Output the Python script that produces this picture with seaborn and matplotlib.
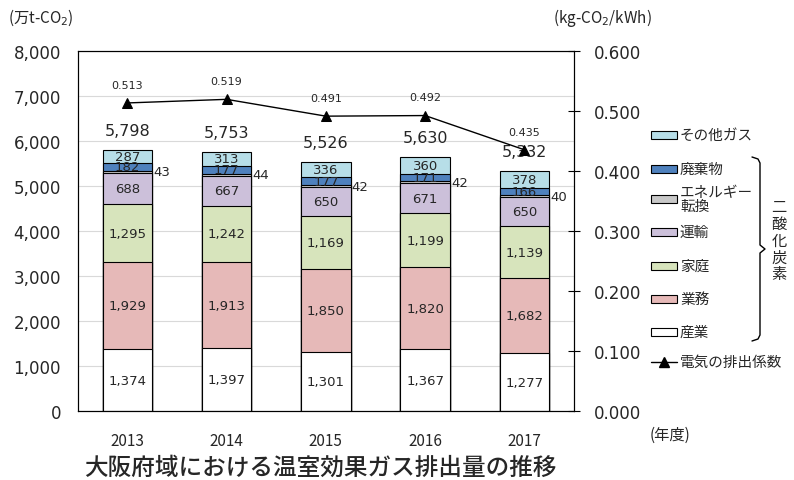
import numpy as np
import pandas as pd
import seaborn as sns
import matplotlib.pyplot as plt
from matplotlib.patches import Rectangle
from matplotlib.lines import Line2D

# データ (万t-CO2)
years = ["2013", "2014", "2015", "2016", "2017"]
sangyo = [1374, 1397, 1301, 1367, 1277]
gyomu = [1929, 1913, 1850, 1820, 1682]
katei = [1295, 1242, 1169, 1199, 1139]
unyu = [688, 667, 650, 671, 650]
energy = [43, 44, 42, 42, 40]
haikibutsu = [182, 177, 177, 171, 166]
sonota = [287, 313, 336, 360, 378]
totals = [5798, 5753, 5526, 5630, 5332]  # 図に書かれた合計値
factor = [0.513, 0.519, 0.491, 0.492, 0.435]  # 電気の排出係数 (kg-CO2/kWh)

names = ["産業", "業務", "家庭", "運輸", "エネルギー転換", "廃棄物", "その他ガス"]
colors = ["#ffffff", "#e6b9b8", "#d7e4bc", "#ccc0da", "#c8c8c8", "#4f81bd", "#b7dee8"]

sns.set_theme(style="white")
plt.rcParams["font.family"] = ["DejaVu Sans", "Noto Sans CJK JP"]
jp = ["Noto Sans CJK JP", "DejaVu Sans"]

df = pd.DataFrame({"year": years, "産業": sangyo, "業務": gyomu, "家庭": katei,
                   "運輸": unyu, "エネルギー転換": energy, "廃棄物": haikibutsu,
                   "その他ガス": sonota})
cum = df[names].cumsum(axis=1)

W, H = 794, 481
fig = plt.figure(figsize=(W / 100, H / 100), dpi=100)
ax = fig.add_axes([77.7 / W, 1 - 412 / H, (574 - 77.7) / W, (412 - 51.7) / H])

# 積み上げ棒 (上の層から順に重ねる)
for name, col in reversed(list(zip(names, colors))):
    sns.barplot(x=df["year"], y=cum[name], color=col, saturation=1, width=0.5,
                edgecolor="black", linewidth=0.8, errorbar=None, ax=ax)

# 棒の中の数値
for i in range(len(years)):
    for name in names:
        v = df[name][i]
        mid = cum[name][i] - v / 2
        if name == "エネルギー転換":
            ax.text(i + 0.26, mid, f"{v:,}", ha="left", va="center", fontsize=9.5,
                    family="DejaVu Sans")
        else:
            ax.text(i, mid, f"{v:,}", ha="center", va="center", fontsize=9.5,
                    family="DejaVu Sans")
    ax.annotate(f"{totals[i]:,}", (i, cum["その他ガス"][i]), xytext=(0, 14),
                textcoords="offset points", ha="center", va="center", fontsize=11.5,
                family="DejaVu Sans")

ax.set_xlim(-0.5, 4.5)
ax.set_ylim(0, 8000)
ax.set_yticks(range(0, 8001, 1000))
ax.set_yticklabels([f"{t:,}" for t in range(0, 8001, 1000)], family="DejaVu Sans")
ax.set_xlabel("")
ax.set_ylabel("")
ax.yaxis.grid(True, color="#d9d9d9", linewidth=0.8)
ax.set_axisbelow(True)
ax.tick_params(axis="y", labelsize=12, length=0, pad=12)
ax.tick_params(axis="x", length=0, pad=15)
for lab in ax.get_xticklabels():
    lab.set_fontfamily(jp)
    lab.set_fontsize(11)
for sp in ax.spines.values():
    sp.set_visible(True)
    sp.set_color("black")
    sp.set_linewidth(0.8)

# 排出係数 (右軸)
ax2 = ax.twinx()
sns.lineplot(x=np.arange(len(years)), y=factor, ax=ax2, color="black", lw=1,
             marker="^", markersize=6.5, markeredgecolor="black")
ax2.set_ylim(0, 0.6)
ax2.set_yticks(np.arange(0, 0.61, 0.1))
ax2.set_yticklabels([f"{t:.3f}" for t in np.arange(0, 0.61, 0.1)], family="DejaVu Sans")
ax2.tick_params(axis="y", labelsize=12, direction="inout", length=8, width=0.8,
                color="black", pad=10, right=True)
for sp in ax2.spines.values():
    sp.set_color("black")
    sp.set_linewidth(0.8)
for i, f in enumerate(factor):
    ax2.annotate(f"{f:.3f}", (i, f), xytext=(0, 13), textcoords="offset points",
                 ha="center", va="center", fontsize=8, family="DejaVu Sans")

# 単位など
def fx(x):
    return x / W

def fy(y):
    return 1 - y / H

fig.text(fx(8), fy(18), "(万t-CO$_2$)", fontsize=11, family=jp, va="center")
fig.text(fx(553), fy(18), "(kg-CO$_2$/kWh)", fontsize=11, family=jp, va="center")
fig.text(fx(650), fy(435), "(年度)", fontsize=11, family=jp, va="center")
fig.text(fx(84), fy(468), "大阪府域における温室効果ガス排出量の推移", fontsize=17,
         family=jp, fontweight="medium", va="center")

# 凡例
leg_items = [("その他ガス", colors[6], 136), ("廃棄物", colors[5], 170),
             ("エネルギー\n転換", colors[4], 200), ("運輸", colors[3], 233),
             ("家庭", colors[2], 267), ("業務", colors[1], 300), ("産業", colors[0], 333)]
for label, col, y in leg_items:
    fig.patches.append(Rectangle((fx(651), fy(y + 4)), 26 / W, 8 / H, facecolor=col,
                                 edgecolor="black", linewidth=0.8,
                                 transform=fig.transFigure, figure=fig))
    fig.text(fx(680), fy(y), label, fontsize=10.5, family=jp, va="center",
             linespacing=1.0)
fig.lines.append(Line2D([fx(651), fx(677)], [fy(363), fy(363)], color="black", lw=1,
                        transform=fig.transFigure, figure=fig))
fig.lines.append(Line2D([fx(664)], [fy(363)], color="black", marker="^", markersize=6.5,
                        transform=fig.transFigure, figure=fig))
fig.text(fx(680), fy(363), "電気の排出係数", fontsize=10.5, family=jp, va="center")

# 二酸化炭素の括弧
bx = [752, 758, 760, 760, 765, 760, 760, 758, 752]
by = [158, 160, 164, 246, 250, 254, 336, 340, 342]
fig.lines.append(Line2D([fx(v) for v in bx], [fy(v) for v in by], color="black", lw=1,
                        transform=fig.transFigure, figure=fig))
for k, ch in enumerate("二酸化炭素"):
    fig.text(fx(779), fy(208 + k * 16.7), ch, fontsize=11, family=jp,
             ha="center", va="center")

fig.savefig("out.png", dpi=100)
